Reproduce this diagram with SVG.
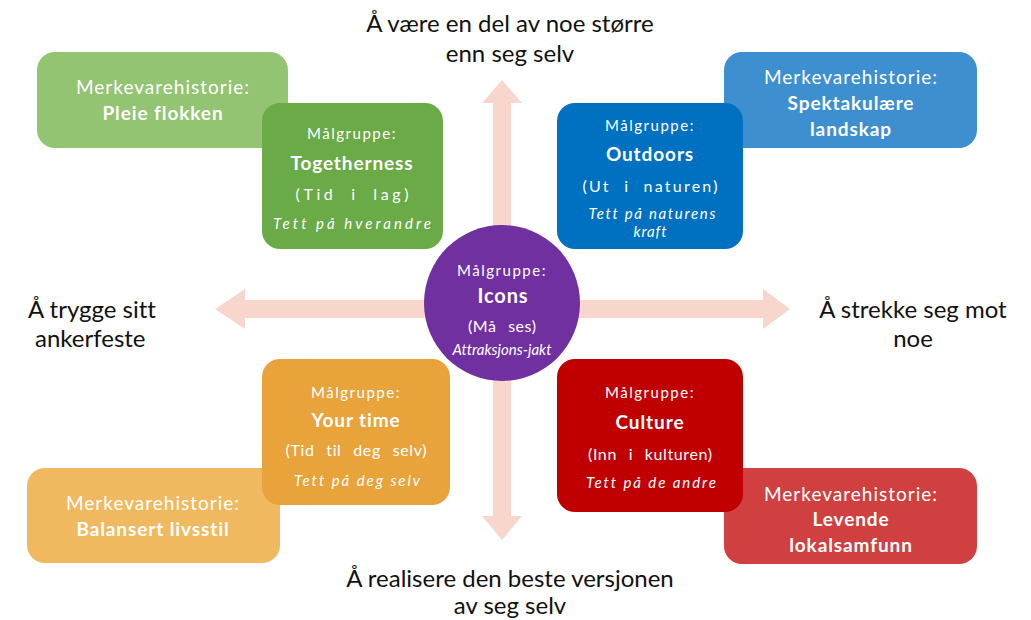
<svg xmlns="http://www.w3.org/2000/svg" width="1031" height="620" viewBox="0 0 1031 620">
<style>
text{font-family:Lato,"Open Sans","Liberation Sans",sans-serif;fill:#fff;text-anchor:middle;font-variant-ligatures:none}
.h{font-size:24px;fill:#111}
.hl{text-anchor:start}
.sm{font-size:15px;letter-spacing:1.5px}
.md{font-size:16px;word-spacing:7px}
.big{font-size:19px;font-weight:bold;letter-spacing:0.9px}
.st{font-size:19px;letter-spacing:1px}
.it{font-style:italic;font-size:15px}
</style>
<g id="connectors" fill="#f9d6cb">
<path d="M215,309 L245,289 L245,300 L763,300 L763,289 L790,309 L763,329 L763,318 L245,318 L245,329 Z"/>
<path d="M502,80 L522,103 L511,103 L511,516 L522,516 L502,540 L482,516 L493,516 L493,103 L482,103 Z"/>
</g>
<g id="story-green"><rect x="37" y="52" width="251" height="96" rx="18" fill="#93c472"/>
<text x="163" y="94" class="st">Merkevarehistorie:</text><text x="163" y="120" class="big">Pleie flokken</text></g>
<g id="story-blue"><rect x="724" y="52" width="253" height="96" rx="18" fill="#3e8fd0"/>
<text x="851" y="84" class="st">Merkevarehistorie:</text><text x="851" y="110" class="big">Spektakulære</text><text x="851" y="136" class="big">landskap</text></g>
<g id="story-orange"><rect x="27" y="468" width="253" height="95" rx="18" fill="#f0b960"/>
<text x="153" y="510" class="st">Merkevarehistorie:</text><text x="153" y="536" class="big">Balansert livsstil</text></g>
<g id="story-red"><rect x="724" y="468" width="253" height="96" rx="18" fill="#d04040"/>
<text x="851" y="501" class="st">Merkevarehistorie:</text><text x="851" y="526" class="big">Levende</text><text x="851" y="552" class="big">lokalsamfunn</text></g>
<g id="togetherness"><rect x="262" y="103" width="181" height="146" rx="18" fill="#6aaa47"/>
<text x="352" y="139" class="sm">Målgruppe:</text><text x="352" y="170" class="big">Togetherness</text><text x="352" y="200" class="md" textLength="113" lengthAdjust="spacing">(Tid i lag)</text><text x="352" y="229" class="it" textLength="158" lengthAdjust="spacing">Tett på hverandre</text></g>
<g id="outdoors"><rect x="557" y="103" width="186" height="146" rx="18" fill="#0070c0"/>
<text x="650" y="131" class="sm">Målgruppe:</text><text x="650" y="161" class="big">Outdoors</text><text x="650" y="192" class="md" textLength="135" lengthAdjust="spacing">(Ut i naturen)</text><text x="652" y="219" class="it" textLength="127" lengthAdjust="spacing">Tett på naturens</text><text x="650" y="237" class="it" textLength="33" lengthAdjust="spacing">kraft</text></g>
<g id="yourtime"><rect x="262" y="359" width="188" height="146" rx="18" fill="#e8a33a"/>
<text x="356" y="398" class="sm">Målgruppe:</text><text x="356" y="427" class="big">Your time</text><text x="356" y="456" class="md" textLength="141" lengthAdjust="spacing">(Tid til deg selv)</text><text x="357" y="486" class="it" textLength="126" lengthAdjust="spacing">Tett på deg selv</text></g>
<g id="culture"><rect x="557" y="359" width="186" height="153" rx="18" fill="#c00000"/>
<text x="650" y="398" class="sm">Målgruppe:</text><text x="650" y="429" class="big">Culture</text><text x="650" y="460" class="md" textLength="124" lengthAdjust="spacing">(Inn i kulturen)</text><text x="651" y="488" class="it" textLength="130" lengthAdjust="spacing">Tett på de andre</text></g>
<g id="icons"><circle cx="502" cy="303" r="78" fill="#7030a0"/>
<text x="502" y="276" class="sm">Målgruppe:</text><text x="503" y="303" class="big" style="font-size:20px">Icons</text><text x="502" y="332" class="md" textLength="68" lengthAdjust="spacing">(Må ses)</text><text x="502" y="355" class="it">Attraksjons-jakt</text></g>
<g id="labels">
<text x="510" y="32" class="h">Å være en del av noe større</text>
<text x="510" y="62" class="h">enn seg selv</text>
<text x="28" y="318" class="h hl">Å trygge sitt</text>
<text x="35" y="347" class="h hl">ankerfeste</text>
<text x="913" y="318" class="h">Å strekke seg mot</text>
<text x="913" y="347" class="h">noe</text>
<text x="510" y="587" class="h">Å realisere den beste versjonen</text>
<text x="510" y="614" class="h">av seg selv</text>
</g>
</svg>
